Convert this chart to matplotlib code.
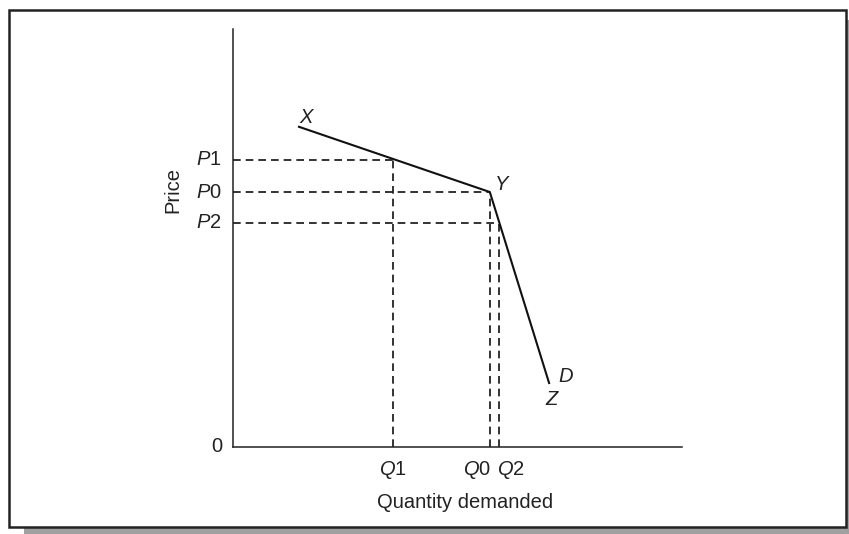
import matplotlib.pyplot as plt
from matplotlib.patches import Rectangle

plt.rcParams['font.family'] = ['Liberation Sans', 'DejaVu Sans']
plt.rcParams['mathtext.fontset'] = 'custom'
plt.rcParams['mathtext.rm'] = 'Liberation Sans'
plt.rcParams['mathtext.it'] = 'Liberation Sans:italic'

# kinked demand curve X - Y - Z
curve_q = [1.47, 5.72, 7.04]
curve_p = [7.66, 6.10, 1.53]

# price levels and the matching quantities
price_labels = ["P1", "P0", "P2"]
price_vals = [6.87, 6.10, 5.36]
qty_labels = ["Q1", "Q0", "Q2"]
qty_vals = [3.56, 5.72, 5.92]

fig = plt.figure(figsize=(8.49, 5.34), dpi=100)

# shadow + frame around the whole figure
W, H = 849, 534
fig.patches.append(Rectangle((24 / W, 0), (W - 24) / W, 7 / H, transform=fig.transFigure,
                             facecolor='#a0a0a0', edgecolor='none', zorder=0))
fig.patches.append(Rectangle((846 / W, 0), 3 / W, (H - 20) / H, transform=fig.transFigure,
                             facecolor='#a0a0a0', edgecolor='none', zorder=0))
fig.patches.append(Rectangle((9 / W, 7 / H), 837 / W, 517 / H, transform=fig.transFigure,
                             facecolor='white', edgecolor='#222222', linewidth=1.8, zorder=1))

ax = fig.add_axes([233 / W, 87 / H, 449 / W, 418 / H])
ax.set_zorder(2)
ax.patch.set_alpha(0)
ax.set_xlim(0, 10)
ax.set_ylim(0, 10)
for s in ['top', 'right']:
    ax.spines[s].set_visible(False)
for s in ['left', 'bottom']:
    ax.spines[s].set_linewidth(1.1)
    ax.spines[s].set_color('#222222')

ax.plot(curve_q, curve_p, color='#111111', linewidth=1.5, solid_joinstyle='miter')

dash = dict(color='#111111', linewidth=1.2, linestyle=(0, (4.6, 3.0)))
for p, q in zip(price_vals, qty_vals):
    ax.plot([0, q], [p, p], **dash)
    ax.plot([q, q], [0, p], **dash)

ax.set_xticks([])
ax.set_yticks([])
fs = 14.5
tc = '#222222'
op = 'offset pixels'


def lab(s):
    return f"$\\mathit{{{s[0]}}}$" + s[1:]


for s, p in zip(price_labels, price_vals):
    ax.annotate(lab(s), (0, p), xytext=(-11, 0), textcoords=op,
                ha='right', va='center', fontsize=fs, color=tc)
ax.annotate("0", (0, 0), xytext=(-11, 0), textcoords=op,
            ha='right', va='center', fontsize=fs, color=tc)
q_offsets = [0, -13, 12]
for s, q, dx in zip(qty_labels, qty_vals, q_offsets):
    ax.annotate(lab(s), (q, 0), xytext=(dx, -23), textcoords=op,
                ha='center', va='center', fontsize=fs, color=tc)

# point labels on the curve
ax.annotate("X", (curve_q[0], curve_p[0]), xytext=(7, 9), textcoords=op,
            ha='center', va='center', fontsize=fs, style='italic', color=tc)
ax.annotate("Y", (curve_q[1], curve_p[1]), xytext=(12, 8), textcoords=op,
            ha='center', va='center', fontsize=fs, style='italic', color=tc)
ax.annotate("Z", (curve_q[2], curve_p[2]), xytext=(2, -16), textcoords=op,
            ha='center', va='center', fontsize=fs, style='italic', color=tc)
ax.annotate("D", (curve_q[2], curve_p[2]), xytext=(17, 7), textcoords=op,
            ha='center', va='center', fontsize=fs, style='italic', color=tc)

ax.set_xlabel("Quantity demanded", fontsize=fs, color=tc)
ax.xaxis.set_label_coords(232 / 449, -56 / 418)
ax.xaxis.label.set_va('center')
ax.set_ylabel("Price", fontsize=fs, color=tc)
ax.yaxis.set_label_coords(-60 / 449, (447 - 190) / 418)
ax.yaxis.label.set_va('center')

fig.savefig('out.png', dpi=100)
plt.close(fig)
